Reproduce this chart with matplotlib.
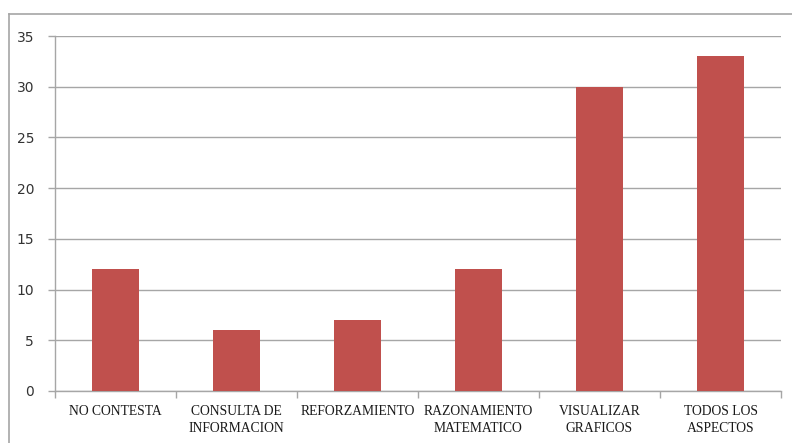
import matplotlib
matplotlib.use("Agg")
import matplotlib.pyplot as plt
from matplotlib.lines import Line2D
import numpy as np

categories = ["NO CONTESTA", "CONSULTA DE\nINFORMACION", "REFORZAMIENTO",
              "RAZONAMIENTO\nMATEMATICO", "VISUALIZAR\nGRAFICOS", "TODOS LOS\nASPECTOS"]
values = [12, 6, 7, 12, 30, 33]
yticks = [0, 5, 10, 15, 20, 25, 30, 35]

W, H = 792, 443
fig = plt.figure(figsize=(W/100, H/100), dpi=100)
gray = "#a6a6a6"

# outer frame (left and top edges visible)
fig.add_artist(Line2D([9/W, 9/W], [0, 1-14/H], color=gray, lw=1.2))
fig.add_artist(Line2D([9/W, 1], [1-14/H, 1-14/H], color=gray, lw=1.2))

ax = fig.add_axes([55/W, 1-391/H, (781-55)/W, (391-36)/H])
x = np.arange(len(categories))
ax.bar(x, values, width=0.39, color="#C0504D", zorder=3)
ax.set_xlim(-0.5, len(categories)-0.5)
ax.set_ylim(0, 35)
ax.set_yticks(yticks)
ax.set_yticklabels([str(t) for t in yticks], fontsize=10, color="#333333", family="DejaVu Sans")
ax.yaxis.grid(True, color=gray, lw=1, zorder=0)
ax.set_xticks(x)
ax.set_xticklabels(categories, fontsize=9.8, family="Liberation Serif", color="#1a1a1a",
                   linespacing=1.4)
ax.tick_params(axis="x", length=0, pad=10)
ax.set_xticks(np.arange(-0.5, len(categories)), minor=True)
ax.tick_params(axis="x", which="minor", length=5, color=gray, width=1)
ax.tick_params(axis="y", length=5, color=gray, width=1, pad=10)
for s in ["top", "right"]:
    ax.spines[s].set_visible(False)
for s in ["left", "bottom"]:
    ax.spines[s].set_color(gray)
    ax.spines[s].set_linewidth(1)

fig.savefig("out.png", dpi=100)
